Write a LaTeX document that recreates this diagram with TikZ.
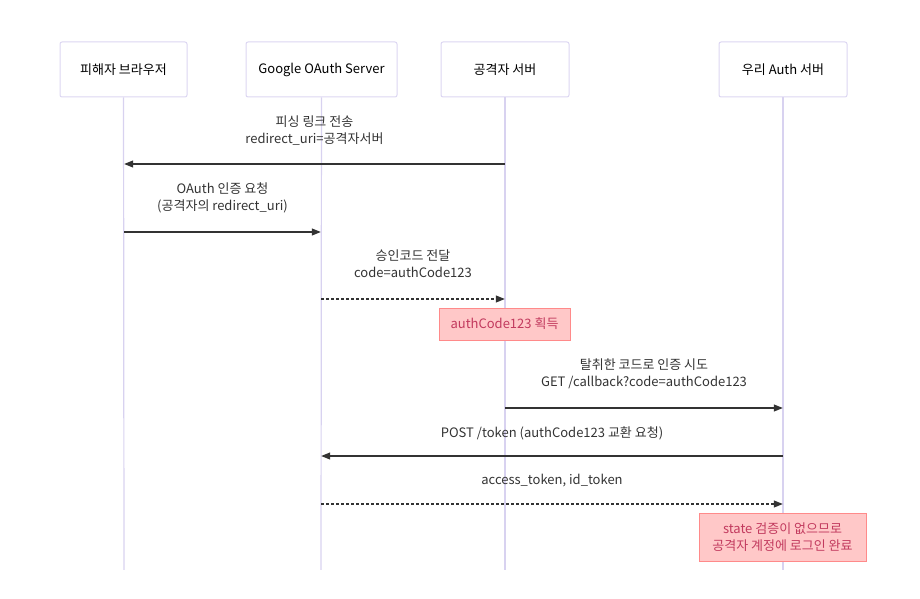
\documentclass[tikz,border=0pt]{standalone}
\usepackage{fontspec}
\setmainfont{Noto Sans CJK KR}
\usetikzlibrary{arrows.meta}
\definecolor{actorline}{HTML}{D8D2F0}
\definecolor{actorborder}{HTML}{DCD6F2}
\definecolor{notefill}{HTML}{FFC8C8}
\definecolor{noteborder}{HTML}{FF8A8A}
\definecolor{notetext}{HTML}{C23A5E}
\definecolor{msgline}{HTML}{333333}
\newcommand{\drawactor}{\node[draw=actorborder, fill=white, rounded corners=2pt, minimum height=55pt, line width=1pt]}
\newcommand{\drawnote}{\node[draw=noteborder, fill=notefill, text=notetext, align=center, line width=1pt, inner sep=0]}
\newcommand{\drawlabel}{\node[align=center, text=msgline, inner sep=0]}
\newcommand{\drawdummy}{\node[minimum size=0,inner sep=0]}

\begin{document}
\begin{tikzpicture}[x=1pt, y=-1pt, every node/.style={font=\fontsize{13}{17}\selectfont},
  msg/.style={draw=msgline, line width=1.1pt, -{Triangle[length=9pt,width=7pt]}},
  reply/.style={msg, dash pattern=on 2.5pt off 2.5pt},
  life/.style={draw=actorline, line width=1.2pt}]
\useasboundingbox (0,0) rectangle (920,599);
%participants

\drawactor[minimum width=127pt] (vict) at (123.5,69.5) {피해자 브라우저};
\drawactor[minimum width=151pt] (goog) at (321.5,69.5) {Google OAuth Server};
\drawactor[minimum width=128pt] (atk) at (505,69.5) {공격자 서버};
\drawactor[minimum width=128pt] (ours) at (783,69.5) {우리 Auth 서버};

\drawdummy (victEnd) at (124,570) {};
\drawdummy (googEnd) at (321,570) {};
\drawdummy (atkEnd) at (505,570) {};
\drawdummy (oursEnd) at (783,570) {};

\draw[life] (vict) to (victEnd);
\draw[life] (goog) to (googEnd);
\draw[life] (atk) to (atkEnd);
\draw[life] (ours) to (oursEnd);

%message end points on the lifelines
\drawdummy (m1a) at (505,164) {};
\drawdummy (m1b) at (124,164) {};
\drawdummy (m2a) at (124,232) {};
\drawdummy (m2b) at (321,232) {};
\drawdummy (m3a) at (321,299) {};
\drawdummy (m3b) at (505,299) {};
\drawdummy (m4a) at (505,408) {};
\drawdummy (m4b) at (783,408) {};
\drawdummy (m5a) at (783,456) {};
\drawdummy (m5b) at (321,456) {};
\drawdummy (m6a) at (321,504) {};
\drawdummy (m6b) at (783,504) {};

\drawlabel (l1) at (314.5,130.5) {피싱 링크 전송\\redirect\_uri=공격자서버};
\drawlabel (l2) at (222.5,197.5) {OAuth 인증 요청\\(공격자의 redirect\_uri)};
\drawlabel (l3) at (413,264) {승인코드 전달\\code=authCode123};
\drawlabel (l4) at (644,374) {탈취한 코드로 인증 시도\\GET /callback?code=authCode123};
\drawlabel (l5) at (552,433) {POST /token (authCode123 교환 요청)};
\drawlabel (l6) at (552,481) {access\_token, id\_token};

\draw[msg] (m1a) to (m1b);
\draw[msg] (m2a) to (m2b);
\draw[reply] (m3a) to (m3b);
\draw[msg] (m4a) to (m4b);
\draw[msg] (m5a) to (m5b);
\draw[reply] (m6a) to (m6b);

%notes
\drawnote[minimum width=131pt, minimum height=32pt] (got) at (504.5,324) {authCode123 획득};
\drawnote[minimum width=167pt, minimum height=48pt] (login) at (782.5,537) {state 검증이 없으므로\\공격자 계정에 로그인 완료};
\end{tikzpicture}
\end{document}
